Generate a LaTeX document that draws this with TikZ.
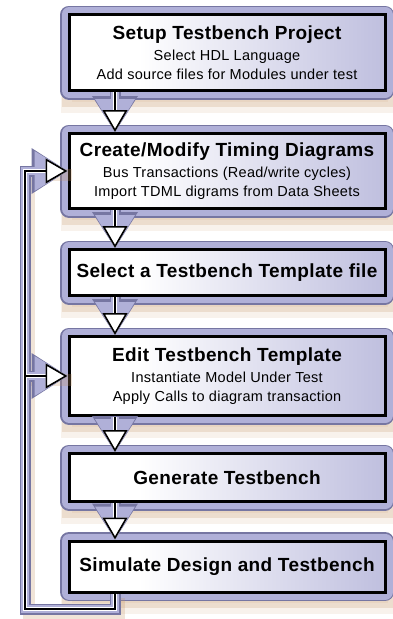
\documentclass[tikz,border=0pt]{standalone}
\usepackage{fontspec}
\setmainfont{Liberation Sans}[LetterSpace=2]
\usetikzlibrary{arrows.meta,shadows}

\definecolor{lavframe}{RGB}{176,176,216}
\definecolor{lavedge}{RGB}{118,118,162}
\definecolor{lavfill}{RGB}{150,150,202}
\definecolor{shadowtan}{RGB}{196,148,100}

% white on the left, lavender towards the right
\pgfdeclarehorizontalshading{stepshade}{100bp}{color(0bp)=(white); color(36bp)=(white); color(100bp)=(lavfill)}

\newcommand{\steptitle}[1]{{\fontsize{19}{22}\bfseries\selectfont #1}}

\begin{document}
\begin{tikzpicture}[x=1pt, y=-1pt,
  every node/.style={font=\fontsize{14.5}{19}\selectfont},
  stepbox/.style={draw=black, line width=3pt, shade, shading=stepshade,
    minimum width=316pt, inner sep=0pt, align=center,
    general shadow={shadow xshift=3pt, shadow yshift=-11pt, draw=shadowtan, fill=shadowtan, line width=22pt, opacity=.12},
    general shadow={shadow xshift=2pt, shadow yshift=-7pt, draw=shadowtan, fill=shadowtan, line width=18pt, opacity=.22},
    preaction={draw=lavedge, line width=18pt, line join=round},
    preaction={draw=lavframe, line width=15pt, line join=round}},
  % connectors are drawn in layers, outermost first
  linkshadow/.style={draw=shadowtan, opacity=.25, line width=12pt, transform canvas={xshift=4pt, yshift=-4pt}},
  linkhalo/.style={draw=lavedge, line width=11pt, -{Triangle[length=36pt, width=46pt, line width=0pt]}},
  linkrim/.style={draw=lavframe, line width=8pt, -{Triangle[length=33pt, width=40pt, line width=0pt]}},
  linkwhite/.style={draw=white, line width=4pt, -{Triangle[length=22pt, width=25pt, line width=0pt]}},
  flowlink/.style={draw=black, line width=1.6pt, -{Triangle[length=22pt, width=25pt, line width=1.6pt, fill=white]}}
]
\useasboundingbox (0,0) rectangle (393,619);

% Steps
\node[stepbox, minimum height=76pt] (setup) at (227,52.5)
  {\steptitle{Setup Testbench Project}\\[2pt] Select HDL Language\\ Add source files for Modules under test};
\node[stepbox, minimum height=75pt] (create) at (227,171)
  {\steptitle{Create/Modify Timing Diagrams}\\[2pt] Bus Transactions (Read/write cycles)\\ Import TDML digrams from Data Sheets};
\node[stepbox, minimum height=46pt] (select) at (227,272.5)
  {\steptitle{Select a Testbench Template file}};
\node[stepbox, minimum height=79pt] (edit) at (227,376)
  {\steptitle{Edit Testbench Template}\\[2pt] Instantiate Model Under Test\\ Apply Calls to diagram transaction};
\node[stepbox, minimum height=48pt] (generate) at (227,477.5)
  {\steptitle{Generate Testbench}};
\node[stepbox, minimum height=51pt] (simulate) at (227,566.5)
  {\steptitle{Simulate Design and Testbench}};

\coordinate (stem) at (115,0);
\coordinate (loopcorner) at (25,609);

% Feedback loop shadow
\draw[linkshadow] (simulate.south -| stem) -- (stem |- loopcorner) -- (loopcorner) |- (create.west);
\draw[linkshadow] (loopcorner |- edit.west) -- (edit.west);

% Down arrows and feedback loop
\foreach \layer in {linkhalo, linkrim, linkwhite, flowlink} {
  \draw[\layer] (setup.south -| stem) -- (create.north -| stem);
  \draw[\layer] (create.south -| stem) -- (select.north -| stem);
  \draw[\layer] (select.south -| stem) -- (edit.north -| stem);
  \draw[\layer] (edit.south -| stem) -- (generate.north -| stem);
  \draw[\layer] (generate.south -| stem) -- (simulate.north -| stem);
  \draw[\layer] (simulate.south -| stem) -- (stem |- loopcorner) -- (loopcorner) |- (create.west);
  \draw[\layer] (loopcorner |- edit.west) -- (edit.west);
}

\end{tikzpicture}
\end{document}
